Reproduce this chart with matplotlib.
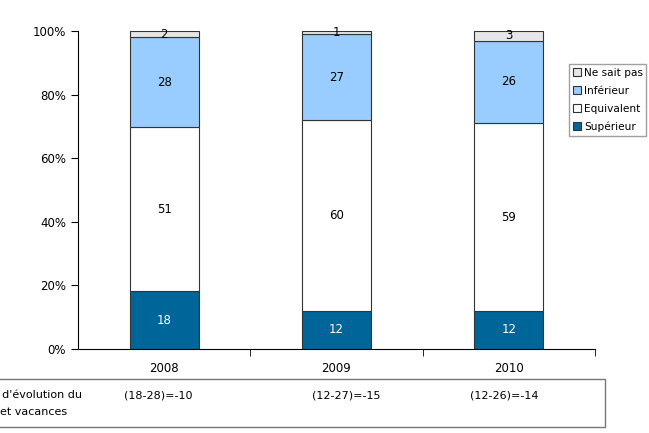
import matplotlib.pyplot as plt
import matplotlib.patches as mpatches
import numpy as np

years = ["2008", "2009", "2010"]
superieur = [18, 12, 12]
equivalent = [51, 60, 59]
inferieur = [28, 27, 26]
ne_sait_pas = [2, 1, 3]
indices = ["(18-28)=-10", "(12-27)=-15", "(12-26)=-14"]

series = [
    ("Supérieur", superieur, "#006699", "white"),
    ("Equivalent", equivalent, "#ffffff", "black"),
    ("Inférieur", inferieur, "#99ccff", "black"),
    ("Ne sait pas", ne_sait_pas, "#e6e6e6", "black"),
]

totals = np.sum([s[1] for s in series], axis=0)

W, H = 649, 433
fig = plt.figure(figsize=(W / 100, H / 100), dpi=100)
ax = fig.add_axes([78 / W, 84 / H, 517 / W, 318 / H])

x = np.arange(len(years))
bottom = np.zeros(len(years))
handles = []
for name, vals, col, tcol in series:
    pct = np.array(vals) / totals * 100
    bars = ax.bar(x, pct, 0.4, bottom=bottom, color=col, edgecolor="#333333",
                  linewidth=0.8, label=name)
    for xi, b, p, v in zip(x, bottom, pct, vals):
        ax.text(xi, b + p / 2, str(v), ha="center", va="center",
                fontsize=8.5, color=tcol)
    bottom += pct
    handles.append(bars)

ax.set_xlim(-0.5, 2.5)
ax.set_ylim(0, 100)
ax.set_yticks([0, 20, 40, 60, 80, 100])
ax.set_yticklabels(["0%", "20%", "40%", "60%", "80%", "100%"], fontsize=8.5)
ax.set_xticks(x)
ax.set_xticklabels(years, fontsize=8.5)
ax.tick_params(axis="x", length=0, pad=9)
ax.set_xticks([0.5, 1.5, 2.5], minor=True)
ax.tick_params(axis="x", which="minor", length=5, direction="out")
ax.tick_params(axis="y", length=5, direction="out")
for s in ["top", "right"]:
    ax.spines[s].set_visible(False)

fig.legend(handles[::-1], [s[0] for s in series][::-1],
           loc="upper left", bbox_to_anchor=(569 / W, 1 - 64 / H),
           fontsize=7.6, frameon=True, fancybox=False, edgecolor="#888888",
           handlelength=0.8, handleheight=0.8, handletextpad=0.25,
           labelspacing=0.75, borderpad=0.35, borderaxespad=0)

# bottom table
box = mpatches.Rectangle((-0.01, 6 / H), 605 / W + 0.01, 48 / H,
                         transform=fig.transFigure, fill=False,
                         edgecolor="#777777", linewidth=1)
fig.add_artist(box)
fig.text(82 / W, 1 - 395 / H, "Indice d'évolution du", ha="right",
         va="center", fontsize=8)
fig.text(0 / W, 1 - 412 / H, "et vacances", ha="left",
         va="center", fontsize=8)
for xp, t in zip([124, 312, 470], indices):
    fig.text(xp / W, 1 - 395 / H, t, ha="left", va="center", fontsize=8)

fig.savefig("out.png", dpi=100)
